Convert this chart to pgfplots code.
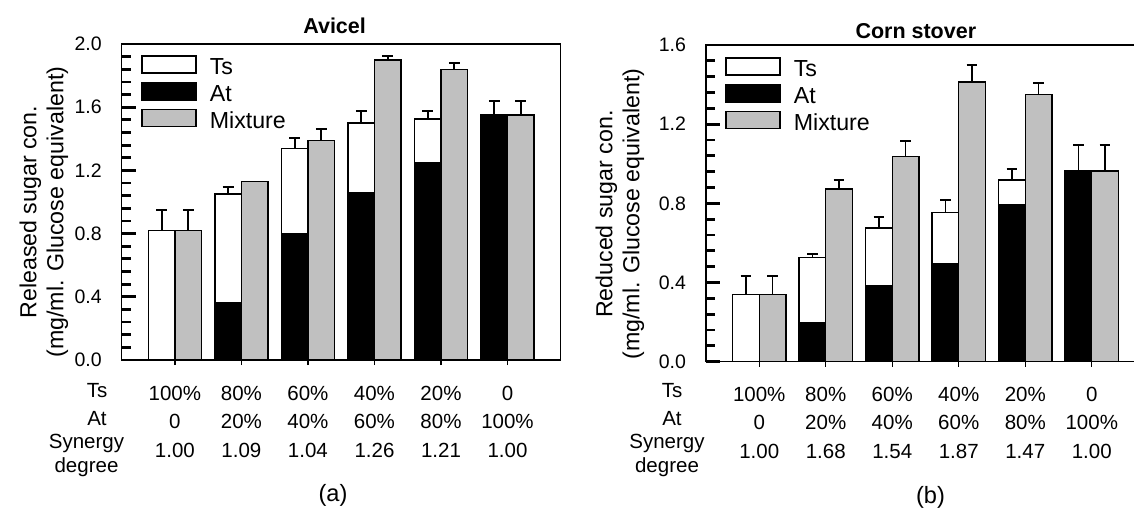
\documentclass[border=0pt]{standalone}
\usepackage{fontspec}
\setmainfont{Liberation Sans}
\usepackage{pgfplots}
\pgfplotsset{compat=1.18}
\usepackage{pgfplotstable}

\definecolor{barGray}{RGB}{192,192,192}

% x: group, total: top of the Ts/At stack, at: At part, mix: mixture bar
\pgfplotstableread{
x total terr at mix merr
0 0.82 0.13 0 0.82 0.13
1 1.05 0.045 0.36 1.13 0
2 1.34 0.065 0.80 1.39 0.07
3 1.50 0.075 1.06 1.90 0.025
4 1.525 0.05 1.25 1.84 0.04
5 1.55 0.09 1.55 1.55 0.09
}\avicel

\pgfplotstableread{
x total terr at mix merr
0 0.34 0.095 0 0.34 0.095
1 0.525 0.02 0.197 0.872 0.046
2 0.675 0.058 0.386 1.037 0.08
3 0.755 0.064 0.493 1.413 0.088
4 0.918 0.054 0.793 1.351 0.057
5 0.963 0.132 0.963 0.963 0.132
}\stover

\newcommand\tickfont{\fontsize{9.75}{10}\selectfont}
\newcommand\rowfont{\fontsize{10.25}{10}\selectfont}
\newcommand\labfont{\fontsize{11.6}{13.5}\selectfont}

\pgfplotsset{
  panel/.style={
    scale only axis, width=219.5pt,
    xmin=-0.8, xmax=5.8, ymin=0,
    axis line style={line width=0.6pt},
    tick pos=left,
    xtick={0,...,5},
    xtick align=outside,
    ytick align=inside,
    major tick length=7pt, minor tick length=4.5pt,
    minor y tick num=4,
    every major y tick/.append style={line width=1.4pt, black},
    every minor y tick/.append style={line width=1.4pt, black},
    xtick style={line width=0.6pt, black, /pgfplots/major tick length=2.5pt},
    /pgf/number format/assume math mode=true,
    yticklabel style={font=\tickfont, xshift=-6.5pt,
      /pgf/number format/.cd, fixed, fixed zerofill, precision=1},
    xticklabel style={font=\rowfont, align=center, anchor=base, yshift=-41.5pt},
    ylabel style={font=\labfont, align=center, anchor=center},
    title style={font=\bfseries\fontsize{10.75}{12}\selectfont, anchor=base},
    legend cell align=left,
    legend image code/.code={\draw[##1] (0pt,-2.7pt) rectangle (27pt,5.8pt);},
    legend style={draw=none, fill=none, inner sep=0pt, anchor=north west,
      font=\fontsize{11.6}{13}\selectfont, row sep=2.5pt, column sep=6.5pt,
      nodes={inner sep=0pt}},
  },
  stackbar/.style={ybar, bar width=0.4, bar shift=0pt, draw=black, line width=0.7pt, forget plot},
  mixbar/.style={ybar, bar width=0.4, bar shift=0pt, draw=black, line width=0.7pt, fill=barGray, forget plot},
  errs/.style={error bars/.cd, y dir=plus, y explicit,
    error bar style={line width=0.9pt, black},
    error mark options={rotate=90, line width=0.9pt, black, mark size=2.7pt}},
}

\begin{document}
\begin{tikzpicture}
\begin{axis}[panel,
  at={(60.85pt,-180pt)}, anchor=south west, height=158pt,
  ymax=2.0, ytick={0,0.4,0.8,1.2,1.6,2.0},
  title=Avicel, title style={at={(axis description cs:0.485,1)}, yshift=-0.7pt},
  ylabel={Released sugar con.\\(mg/ml. Glucose equivalent)},
  ylabel style={at={(axis description cs:-0.177,0.468)}},
  xticklabels={{100\%\\[4pt]0\\[4.5pt]1.00},{80\%\\[4pt]20\%\\[4.5pt]1.09},{60\%\\[4pt]40\%\\[4.5pt]1.04},
    {40\%\\[4pt]60\%\\[4.5pt]1.26},{20\%\\[4pt]80\%\\[4.5pt]1.21},{0\\[4pt]100\%\\[4.5pt]1.00}},
  legend style={at={(axis description cs:0.044,0.965)}},
]
\addlegendimage{fill=white, draw=black, line width=0.7pt}
\addlegendentry{Ts}
\addlegendimage{fill=black, draw=black, line width=0.7pt}
\addlegendentry{At}
\addlegendimage{fill=barGray, draw=black, line width=0.7pt}
\addlegendentry{Mixture}
\addplot[stackbar, fill=white, errs] table[x expr=\thisrow{x}-0.2, y=total, y error=terr] {\avicel};
\addplot[stackbar, fill=black] table[x expr=\thisrow{x}-0.2, y=at] {\avicel};
\addplot[mixbar, errs] table[x expr=\thisrow{x}+0.2, y=mix, y error=merr] {\avicel};
\end{axis}

\begin{axis}[panel,
  at={(353pt,-180.85pt)}, anchor=south west, height=158.35pt,
  ymax=1.6, ytick={0,0.4,0.8,1.2,1.6},
  title=Corn stover, title style={at={(axis description cs:0.478,1)}, yshift=-2.9pt},
  ylabel={Reduced sugar con.\\(mg/ml. Glucose equivalent)},
  ylabel style={at={(axis description cs:-0.196,0.466)}},
  xticklabels={{100\%\\[4pt]0\\[4.5pt]1.00},{80\%\\[4pt]20\%\\[4.5pt]1.68},{60\%\\[4pt]40\%\\[4.5pt]1.54},
    {40\%\\[4pt]60\%\\[4.5pt]1.87},{20\%\\[4pt]80\%\\[4.5pt]1.47},{0\\[4pt]100\%\\[4.5pt]1.00}},
  legend style={at={(axis description cs:0.0433,0.962)}},
]
\addlegendimage{fill=white, draw=black, line width=0.7pt}
\addlegendentry{Ts}
\addlegendimage{fill=black, draw=black, line width=0.7pt}
\addlegendentry{At}
\addlegendimage{fill=barGray, draw=black, line width=0.7pt}
\addlegendentry{Mixture}
\addplot[stackbar, fill=white, errs] table[x expr=\thisrow{x}-0.2, y=total, y error=terr] {\stover};
\addplot[stackbar, fill=black] table[x expr=\thisrow{x}-0.2, y=at] {\stover};
\addplot[mixbar, errs] table[x expr=\thisrow{x}+0.2, y=mix, y error=merr] {\stover};
\end{axis}

% row headings under the axes
\begin{scope}[every node/.style={font=\rowfont, anchor=base, inner sep=0pt}]
\node at (48.5pt,-198.5pt) {Ts};
\node at (48.5pt,-212.5pt) {At};
\node at (43.25pt,-224pt) {Synergy};
\node at (43.25pt,-236.25pt) {degree};
\node at (336pt,-198.5pt) {Ts};
\node at (336pt,-212.5pt) {At};
\node at (333.5pt,-224pt) {Synergy};
\node at (333.5pt,-236.25pt) {degree};
\end{scope}
\node[font=\fontsize{11.8}{13}\selectfont] at (166.5pt,-247.5pt) {(a)};
\node[font=\fontsize{11.8}{13}\selectfont] at (465.25pt,-248.5pt) {(b)};

\pgfresetboundingbox
\path[use as bounding box] (0pt,0pt) rectangle (567pt,-255.5pt);
\end{tikzpicture}
\end{document}
